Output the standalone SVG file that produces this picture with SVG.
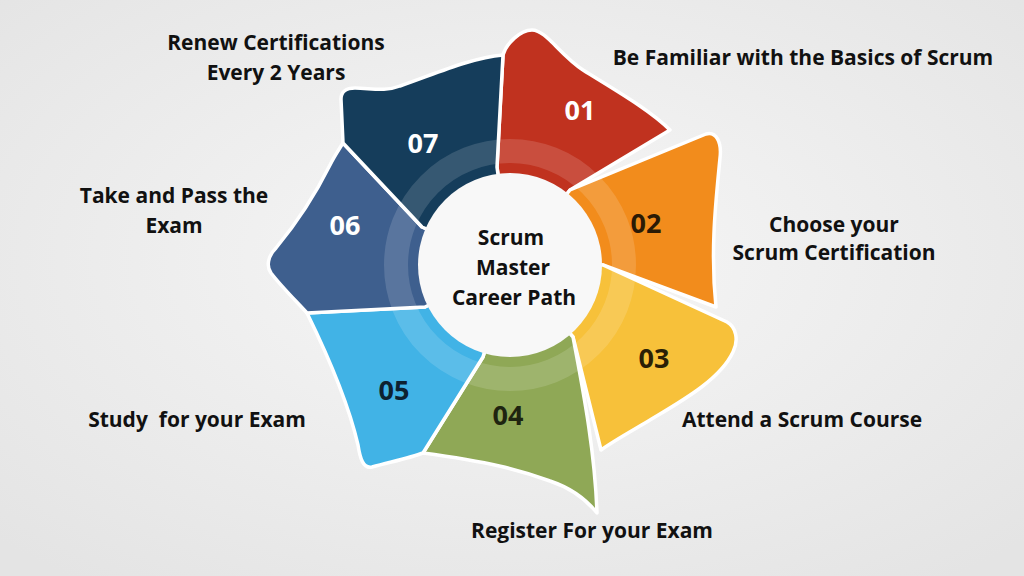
<svg xmlns="http://www.w3.org/2000/svg" width="1024" height="576" viewBox="0 0 1024 576">
<defs>
<radialGradient id="bg" cx="50%" cy="45%" r="70%">
<stop offset="0" stop-color="#f7f7f7"/>
<stop offset="1" stop-color="#e4e4e4"/>
</radialGradient>
<style>
.petal{stroke:#ffffff;stroke-width:3.5;stroke-linejoin:round}
.num{font-family:"Open Sans","DejaVu Sans",sans-serif;font-weight:700;font-size:27px;text-anchor:middle}
.lbl{font-family:"Open Sans","DejaVu Sans",sans-serif;font-weight:700;font-size:21px;text-anchor:middle;fill:#111111;white-space:pre}
.ctr{font-family:"Open Sans","DejaVu Sans",sans-serif;font-weight:700;font-size:21px;text-anchor:middle;fill:#111111}
</style>
</defs>
<rect width="1024" height="576" fill="url(#bg)"/>

<g id="step01">
<path class="petal" fill="#c0321f" d="M510,265 L497,167 L503,55 C506,44 520,30 532,30 C546,30 560,55 583,70 C615,90 650,110 670,130 L570,190 Z"/>
<text class="num" x="580" y="120" fill="#ffffff">01</text>
</g>
<g id="step02">
<path class="petal" fill="#f28c1c" d="M510,265 L570,190 L706,134 C716,131 722,142 720,158 C716,200 710,250 716,307 L603,265 Z"/>
<text class="num" x="646" y="233" fill="#2b1a05">02</text>
</g>
<g id="step03">
<path class="petal" fill="#f7c13a" d="M510,265 L603,265 L727,322 C736,327 739,340 733,352 C720,380 680,402 650,420 C630,432 615,440 601,450 L573,337 Z"/>
<text class="num" x="654" y="368" fill="#2b1f05">03</text>
</g>
<g id="step04">
<path class="petal" fill="#8fa856" d="M510,265 L573,337 C585,400 595,455 597,513 C585,498 568,487 550,481 C520,470 490,462 423,453 L483,357 Z"/>
<text class="num" x="508" y="425" fill="#1e2410">04</text>
</g>
<g id="step05">
<path class="petal" fill="#41b3e6" d="M510,265 L483,357 L423,453 C410,458 390,462 372,467 C363,469 360,458 358,445 C350,410 330,360 307,313 L425,307 Z"/>
<text class="num" x="394" y="400" fill="#0d2231">05</text>
</g>
<g id="step06">
<path class="petal" fill="#3e5f8e" d="M510,265 L425,307 L307,313 C295,300 280,285 271,273 C266,266 268,256 276,248 C295,225 315,195 330,165 C335,155 340,148 343,143 L422,227 Z"/>
<text class="num" x="345" y="235" fill="#ffffff">06</text>
</g>
<g id="step07">
<path class="petal" fill="#153d5b" d="M510,265 L422,227 L343,143 L341,99 C341,92 346,88 355,88 C370,88 385,92 400,86 C435,74 470,58 503,55 L497,167 Z"/>
<text class="num" x="423" y="153" fill="#ffffff">07</text>
</g>

<g id="connectors"></g>

<circle cx="510" cy="265" r="114" fill="none" stroke="#ffffff" stroke-opacity="0.14" stroke-width="24"/>

<g id="center">
<circle cx="510" cy="265" r="92" fill="#f8f8f8"/>
<text class="ctr" x="511" y="245">Scrum</text>
<text class="ctr" x="513" y="275">Master</text>
<text class="ctr" x="514" y="305">Career Path</text>
</g>

<g id="labels">
<text class="lbl" x="276" y="50">Renew Certifications</text>
<text class="lbl" x="276" y="80">Every 2 Years</text>
<text class="lbl" x="803" y="65">Be Familiar with the Basics of Scrum</text>
<text class="lbl" x="834" y="232">Choose your</text>
<text class="lbl" x="834" y="260">Scrum Certification</text>
<text class="lbl" x="174" y="203">Take and Pass the</text>
<text class="lbl" x="174" y="233">Exam</text>
<text class="lbl" x="802" y="427">Attend a Scrum Course</text>
<text class="lbl" x="197" y="427">Study  for your Exam</text>
<text class="lbl" x="592" y="538">Register For your Exam</text>
</g>
</svg>
